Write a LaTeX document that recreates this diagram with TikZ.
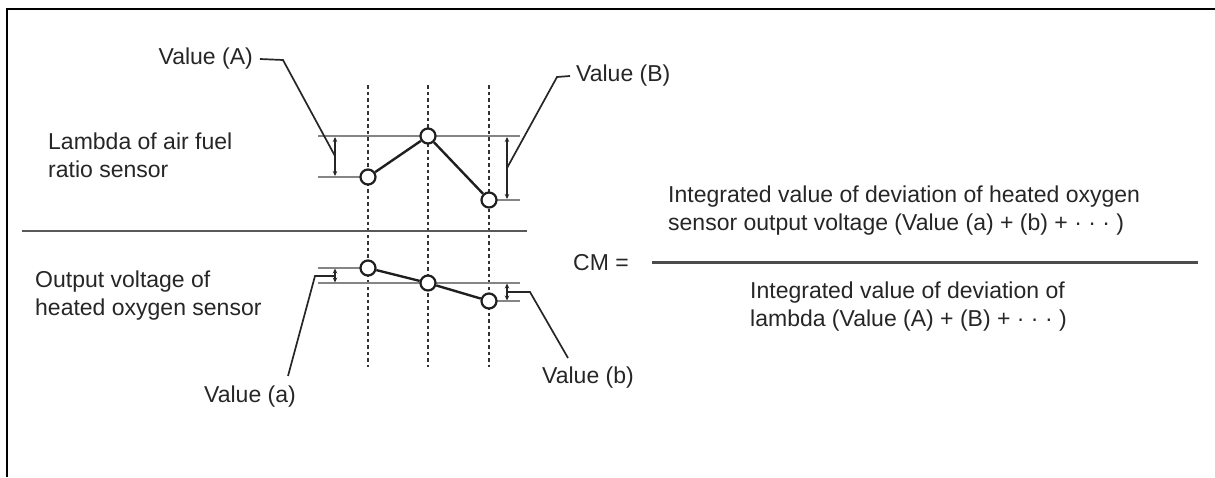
\documentclass[tikz,border=0pt]{standalone}
\usepackage{fontspec}
\setmainfont{Liberation Sans}
\usetikzlibrary{arrows.meta}
\begin{document}
\begin{tikzpicture}[x=1pt,y=-1pt,
  txt/.style={inner sep=0pt, font=\fontsize{23}{28}\selectfont, text=black!85},
  refline/.style={draw=black!48, line width=2.3pt},
  curve/.style={draw=black!88, line width=2.4pt},
  gridline/.style={draw=black!80, line width=2.2pt, dash pattern=on 3.5pt off 3pt},
  pt/.style={circle, draw=black!88, fill=white, line width=2.2pt, minimum size=15pt, inner sep=0pt},
  leader/.style={draw=black!85, line width=1.7pt},
  dim/.style={draw=black!85, line width=1.4pt, {Stealth[length=5pt,width=4.5pt]}-{Stealth[length=5pt,width=4.5pt]}},
  frameline/.style={draw=black, line width=2.5pt}]
\useasboundingbox (0,0) rectangle (1215,477);
% frame
\draw[frameline] (7,477) -- (7,9) -- (1215,9);
% positions
\coordinate (p1) at (368,177);
\coordinate (p2) at (428,136);
\coordinate (p3) at (489,200);
\coordinate (q1) at (368,268);
\coordinate (q2) at (428,283);
\coordinate (q3) at (489,301);
% dashed verticals
\foreach \x/\n in {368/1,428/2,489/3}{
  \coordinate (t\n) at (\x,85);
  \coordinate (b\n) at (\x,367);
  \draw[gridline] (t\n) -- (b\n);
}
% lambda reference lines
\draw[refline] (318,136) -- (520,136);
\draw[refline] (318,177) -- (p1);
\draw[refline] (p3) -- (520,200);
\draw[dim] (335,137) -- (335,176);
\draw[dim] (507,137) -- (507,199);
% voltage reference lines
\draw[refline] (318,268) -- (q1);
\draw[refline] (318,283) -- (520,283);
\draw[refline] (q3) -- (520,301);
\draw[dim] (335,268.5) -- (335,282.5);
\draw[dim] (507,283.5) -- (507,300.5);
% separator
\draw[draw=black!65, line width=2.2pt] (22,231) -- (527,231);
% points
\node[pt] (c1) at (p1) {};
\node[pt] (c2) at (p2) {};
\node[pt] (c3) at (p3) {};
\node[pt] (d1) at (q1) {};
\node[pt] (d2) at (q2) {};
\node[pt] (d3) at (q3) {};
\draw[curve] (c1) -- (c2) -- (c3);
\draw[curve] (d1) -- (d2) -- (d3);
% labels
\node[txt, anchor=east] (vA) at (253,59) {Value (A)};
\node[txt, anchor=west] (vB) at (576,76) {Value (B)};
\node[txt] (va) at (250,397) {Value (a)};
\node[txt] (vb) at (588,378) {Value (b)};
\coordinate (mA) at (335,156);
\coordinate (mB) at (507,168);
\coordinate (ma) at (334,276);
\coordinate (mb) at (508,292);
\coordinate (la) at (288,376);
\coordinate (lb) at (568,358);
\draw[leader] ([xshift=7pt]vA.east) -- (283,60) -- (mA);
\draw[leader] ([xshift=-6pt]vB.west) -- (557,77) -- (mB);
\draw[leader] (la) -- (315,276) -- (ma);
\draw[leader] (mb) -- (530,292) -- (lb);
% side texts
\node[txt, anchor=west, align=left] (lam) at (48,155) {Lambda of air fuel\\ratio sensor};
\node[txt, anchor=west, align=left] (out) at (35,296) {Output voltage of\\heated oxygen sensor};
% formula
\node[txt] (cm) at (601,263) {CM =};
\coordinate (f1) at (652,262);
\coordinate (f2) at (1198,262);
\draw[draw=black!70, line width=3pt] (f1) -- (f2);
\node[txt, anchor=west, align=left] (num) at (668,211) {Integrated value of deviation of heated oxygen\\sensor output voltage (Value (a) + (b) + · · · )};
\node[txt, anchor=west, align=left] (den) at (750,307) {Integrated value of deviation of\\lambda (Value (A) + (B) + · · · )};
\end{tikzpicture}
\end{document}
